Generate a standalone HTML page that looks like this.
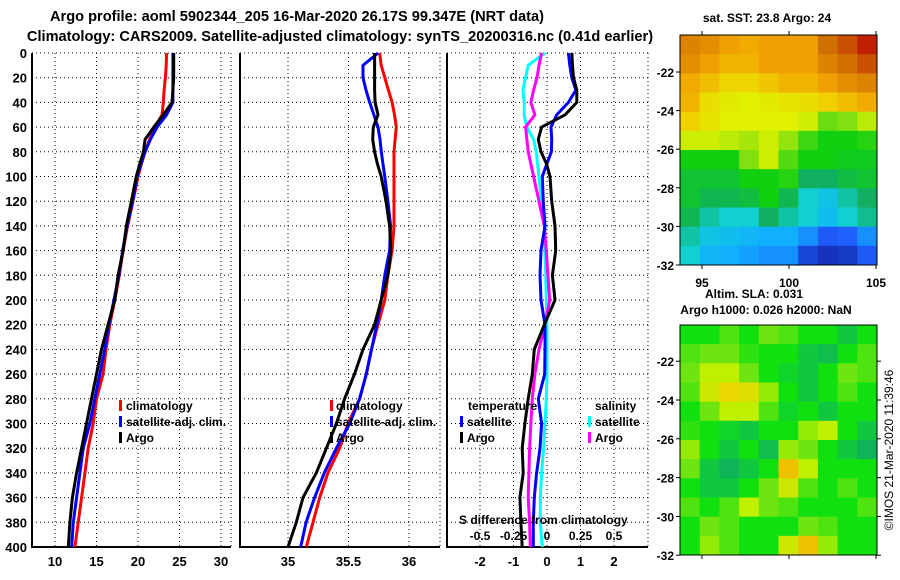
<!DOCTYPE html>
<html><head><meta charset="utf-8">
<style>
body{margin:0;background:#fff;}
svg{display:block;font-family:"Liberation Sans",sans-serif;font-weight:bold;}
</style></head>
<body>
<svg id="chart" width="900" height="580" viewBox="0 0 900 580" xmlns="http://www.w3.org/2000/svg">
<rect width="900" height="580" fill="#fff"/>
<text x="297" y="21" font-size="14.6" text-anchor="middle">Argo profile: aoml 5902344_205 16-Mar-2020 26.17S 99.347E (NRT data)</text>
<text x="340" y="41" font-size="14.6" text-anchor="middle">Climatology: CARS2009. Satellite-adjusted climatology: synTS_20200316.nc (0.41d earlier)</text>
<text x="767" y="22" font-size="12" text-anchor="middle">sat. SST: 23.8 Argo: 24</text>
<text x="754" y="298" font-size="12" text-anchor="middle">Altim. SLA: 0.031</text>
<text x="766" y="314" font-size="12" text-anchor="middle">Argo h1000: 0.026 h2000: NaN</text>
<g id="layer"></g>
<text transform="translate(893,450) rotate(-90)" font-size="12" font-weight="normal" text-anchor="middle">©IMOS 21-Mar-2020 11:39:46</text>
</svg>
<script>
const depth=[0,10,20,30,40,50,60,70,80,90,100,120,140,160,180,200,220,240,260,280,300,320,340,360,380,400];
const depthTicks=[0,20,40,60,80,100,120,140,160,180,200,220,240,260,280,300,320,340,360,380,400];
const tClim=[23.45,23.4,23.3,23.15,23.05,22.9,22.05,21.4,20.85,20.4,20.0,19.4,18.75,18.2,17.75,17.2,16.6,16.15,15.8,15.0,14.6,14.0,13.6,13.2,12.8,12.4];
const tSat=[24.2,24.2,24.2,24.2,24.2,23.45,22.3,21.5,20.85,20.35,19.9,19.35,18.7,18.15,17.7,17.1,16.5,16.0,15.4,14.8,14.2,13.4,13.0,12.6,12.2,12.0];
const tArgo=[24.3,24.3,24.3,24.2,24.1,23.05,21.9,20.85,20.65,20.2,19.8,19.2,18.6,18.2,17.6,17.2,16.4,15.6,15.0,14.4,13.8,13.2,12.6,12.1,11.8,11.6];
const sClim=[35.758,35.77,35.80,35.83,35.86,35.88,35.895,35.885,35.876,35.876,35.876,35.876,35.876,35.86,35.826,35.80,35.744,35.689,35.647,35.592,35.496,35.427,35.33,35.262,35.207,35.151];
const sSat=[35.745,35.62,35.62,35.645,35.675,35.71,35.744,35.76,35.771,35.785,35.80,35.826,35.848,35.84,35.80,35.77,35.734,35.69,35.647,35.592,35.51,35.40,35.30,35.22,35.15,35.105];
const sArgo=[35.716,35.716,35.716,35.716,35.72,35.744,35.705,35.70,35.716,35.74,35.77,35.81,35.84,35.85,35.826,35.77,35.716,35.62,35.55,35.468,35.40,35.317,35.234,35.124,35.069,35.0];
const dtSat=[0.64,0.68,0.74,0.86,0.64,0.29,0.12,0.14,0.13,-0.01,-0.14,-0.11,-0.06,-0.18,-0.21,-0.18,-0.06,-0.06,-0.07,-0.26,-0.16,-0.21,-0.31,-0.38,-0.41,-0.41];
const dtArgo=[0.74,0.76,0.79,0.89,0.89,0.54,-0.16,-0.26,-0.18,-0.01,0.09,0.14,0.24,0.26,0.16,0.24,-0.08,-0.38,-0.44,-0.56,-0.66,-0.74,-0.71,-0.81,-0.78,-0.74];
const dsSat=[-0.015,-0.14,-0.16,-0.18,-0.17,-0.17,-0.15,-0.1,-0.08,-0.07,-0.06,-0.04,-0.015,-0.015,-0.01,-0.005,0,0,0,-0.005,-0.015,-0.025,-0.04,-0.05,-0.05,-0.035];
const dsArgo=[-0.04,-0.06,-0.075,-0.1,-0.12,-0.09,-0.16,-0.15,-0.14,-0.12,-0.1,-0.06,-0.02,-0.005,0.007,0.02,-0.015,-0.06,-0.09,-0.11,-0.12,-0.13,-0.135,-0.14,-0.13,-0.125];
const tTicks=[10,15,20,25,30];
const sTicks=[35,35.5,36];
const dTicks=[-2,-1,0,1,2];
const dsTicks=[-0.5,-0.25,0,0.25,0.5];
const sstLatTicks=[-22,-24,-26,-28,-30,-32];
const slaLatTicks=[-22,-24,-26,-28,-30,-32];
const lonTicks=[95,100,105];
const sstGrid=[
[26.3,26.2,26,25.9,26,26,26,26.5,26.7,27],
[26.2,26,25.8,25.8,26,26,26,26.3,26.5,26.7],
[25.9,25.7,25.4,25.4,25.6,25.8,25.8,26,26.2,26.3],
[25.8,25.3,25.1,25,25.1,25.2,25.3,25.5,25.7,25.9],
[25.5,25.2,25,25,25,25,24.9,24.4,24.5,24.8],
[24.9,24.9,24.8,24.7,24.9,24.6,24.2,24,24,24.1],
[24,24,24,24.5,24.9,24.3,24,24,23.9,23.9],
[23.8,23.8,23.8,24,24,24.1,23.5,23.5,23.7,23.8],
[23.8,23.6,23.6,23.7,24,23.6,23,22.8,23.2,23.5],
[23.6,23.2,23,23,23.5,23.2,23,22.7,23,23.3],
[23.2,22.8,22.7,22.6,22.5,22.5,22.3,21.9,22,22.3],
[23,22.6,22.5,22.4,22.3,22.3,21.6,21.3,21.4,21.9]];
const slaGrid=[
[0,0,0.02,0,0.03,0.02,0,0,-0.02,0],
[0.02,0.03,0.03,0.01,0,0,-0.02,-0.03,0,0.02],
[0.03,0.05,0.05,0.03,0,-0.01,-0.02,0,0.03,0.02],
[0.02,0.06,0.08,0.07,0.04,0,-0.02,0,0.02,0],
[0,0.03,0.05,0.05,0.02,-0.01,0,-0.02,0,0],
[0.01,0,-0.01,-0.02,0,0,0.04,0.05,0,-0.02],
[0.04,0,-0.02,0,-0.03,0.04,0.03,0,-0.02,-0.04],
[0.03,-0.02,-0.04,-0.02,0,0.09,0.05,0,0,0],
[0,-0.02,-0.02,0,0.03,0.06,0.02,0,0.02,0],
[0.02,0,0.02,0.05,0.03,0.02,0,0,0,0.02],
[0,0.03,0.02,0,0,0,0.03,0.02,0,0],
[0,0.04,0.02,0,0,0.06,0.09,0.04,0,0]];

const NS='http://www.w3.org/2000/svg';
const layer=document.getElementById('layer');
function mk(tag,attrs,parent){const e=document.createElementNS(NS,tag);for(const k in attrs)e.setAttribute(k,attrs[k]);(parent||layer).appendChild(e);return e;}
const yD=d=>53+d*(494/400);
function panel(x0,x1,xs,ticks,fmt,name){
  const g=mk('g',{});
  
  
  depthTicks.forEach(d=>{const l=mk('line',{x1:x0,x2:x1,y1:yD(d),y2:yD(d),stroke:'#000','stroke-width':1,'stroke-dasharray':'1,3'},g);
    
    });
  ticks.forEach(v=>{const X=xs(v);const l=mk('line',{x1:X,x2:X,y1:53,y2:547,stroke:'#000','stroke-width':1,'stroke-dasharray':'1,3'},g);
    
    
    const t=mk('text',{x:X,y:566,'font-size':13,'text-anchor':'middle'},g);t.textContent=fmt(v);
    
    });
  mk('line',{x1:x1,x2:x1,y1:53,y2:547,stroke:'#000','stroke-dasharray':'1,3'},g);
  mk('line',{x1:x0,x2:x0,y1:53,y2:548,stroke:'#000','stroke-width':2},g);
  mk('line',{x1:x0,x2:x1,y1:547,y2:547,stroke:'#000','stroke-width':2},g);
  return g;
}
function line(vals,xs,color,name,g){
  const pts=vals.map((v,i)=>xs(v).toFixed(1)+','+yD(depth[i]).toFixed(1)).join(' ');
  const p=mk('polyline',{points:pts,fill:'none',stroke:color,'stroke-width':3,'stroke-linejoin':'miter'},g);
  
  
}
function text(x,y,s,name,size,anchor){const t=mk('text',{x:x,y:y,'font-size':size||12,'text-anchor':anchor||'start'});t.textContent=s;
  
  return t;}
function legBar(x,y,color){const r=mk('rect',{x:x,y:y-10,width:3,height:11,fill:color});
  
  }

const xT=v=>55+(v-10)*8.3;
const g1=panel(32,231,xT,tTicks,v=>String(v),'temperature-panel');
depthTicks.forEach(d=>{text(27,yD(d)+5,String(d),'depth-tick-label',13,'end');});
line(tClim,xT,'#f00','temperature-climatology-line',g1);
line(tSat,xT,'#00f','temperature-satellite-line',g1);
line(tArgo,xT,'#000','temperature-argo-line',g1);
legBar(119,410,'#f00');text(126,410,'climatology','legend-climatology');
legBar(119,426,'#00f');text(126,426,'satellite-adj. clim.','legend-satellite-adj');
legBar(119,442,'#000');text(126,442,'Argo','legend-argo');

const xS=v=>288+(v-35)*121;
const g2=panel(240,440,xS,sTicks,v=>String(v),'salinity-panel');
line(sClim,xS,'#f00','salinity-climatology-line',g2);
line(sSat,xS,'#00f','salinity-satellite-line',g2);
line(sArgo,xS,'#000','salinity-argo-line',g2);
legBar(330,410,'#f00');text(336,410,'climatology','legend-climatology');
legBar(330,426,'#00f');text(336,426,'satellite-adj. clim.','legend-satellite-adj');
legBar(330,442,'#000');text(336,442,'Argo','legend-argo');

const xDT=v=>547+v*33.5;
const xDS=v=>547+v*134;
const g3=panel(447,648,xDT,dTicks,v=>String(v),'difference-panel');
line(dsSat,xDS,'#0ff','salinity-diff-satellite-line',g3);
line(dsArgo,xDS,'#f0f','salinity-diff-argo-line',g3);
line(dtSat,xDT,'#00f','temperature-diff-satellite-line',g3);
line(dtArgo,xDT,'#000','temperature-diff-argo-line',g3);
text(468,410,'temperature','legend-temperature-heading');
legBar(460,426,'#00f');text(467,426,'satellite','legend-temp-satellite');
legBar(460,442,'#000');text(467,442,'Argo','legend-temp-argo');
text(595,410,'salinity','legend-salinity-heading');
legBar(588,426,'#0ff');text(595,426,'satellite','legend-sal-satellite');
legBar(588,442,'#f0f');text(595,442,'Argo','legend-sal-argo');
text(459,524,'S difference from climatology','s-axis-title',12);
dsTicks.forEach(v=>text(xDS(v),540,String(v),'s-tick-label',12,'middle'));

function lerpC(stops,v){
  if(v<=stops[0][0])return stops[0][1];
  for(let i=1;i<stops.length;i++){if(v<=stops[i][0]){const a=stops[i-1],b=stops[i];const f=(v-a[0])/(b[0]-a[0]);
    return a[1].map((x,k)=>Math.round(x+(b[1][k]-x)*f));}}
  return stops[stops.length-1][1];
}
const sstStops=[[21,[16,32,160]],[22,[32,96,255]],[22.5,[16,176,255]],[23,[16,208,208]],[23.5,[16,176,96]],[24,[16,208,16]],[24.5,[128,224,16]],[25,[224,240,0]],[25.5,[240,208,0]],[26,[240,160,0]],[26.5,[208,112,0]],[27,[192,32,0]]];
const slaStops=[[-0.05,[16,170,100]],[-0.02,[16,200,64]],[0,[16,224,16]],[0.03,[110,228,16]],[0.05,[190,240,0]],[0.08,[235,215,0]],[0.1,[240,170,0]]];
function heat(grid,stops,x0,y0,w,h,name){
  const rows=grid.length,cols=grid[0].length,cw=w/cols,ch=h/rows;
  grid.forEach((row,r)=>row.forEach((v,c)=>{const col=lerpC(stops,v);
    const e=mk('rect',{x:(x0+c*cw).toFixed(2),y:(y0+r*ch).toFixed(2),width:(cw+0.5).toFixed(2),height:(ch+0.5).toFixed(2),fill:'rgb('+col.join(',')+')'});
    
    }));
  const b=mk('rect',{x:x0,y:y0,width:w,height:h,fill:'none',stroke:'#000','stroke-width':1});
  
  
}
heat(sstGrid,sstStops,680,35,197,230,'sst-map');
const latY1=l=>72+(-22-l)*19.3;
sstLatTicks.forEach(l=>{text(674,latY1(l)+5,String(l),'sst-lat-label',12,'end');mk('line',{x1:676,x2:680,y1:latY1(l),y2:latY1(l),stroke:'#000'});});
const lonX=l=>702+(l-95)*17.4;
lonTicks.forEach(l=>{text(lonX(l),287,String(l),'sst-lon-label',12,'middle');mk('line',{x1:lonX(l),x2:lonX(l),y1:265,y2:269,stroke:'#000'});mk('line',{x1:lonX(l),x2:lonX(l),y1:31,y2:35,stroke:'#000'});});
heat(slaGrid,slaStops,680,325,197,230,'sla-map');
const latY2=l=>400+(-24-l)*19.4;
slaLatTicks.forEach(l=>{text(674,latY2(l)+5,String(l),'sla-lat-label',12,'end');mk('line',{x1:676,x2:680,y1:latY2(l),y2:latY2(l),stroke:'#000'});mk('line',{x1:877,x2:881,y1:latY2(l),y2:latY2(l),stroke:'#000'});});
lonTicks.forEach(l=>{mk('line',{x1:lonX(l),x2:lonX(l),y1:555,y2:559,stroke:'#000'});});
</script>
</body></html>
